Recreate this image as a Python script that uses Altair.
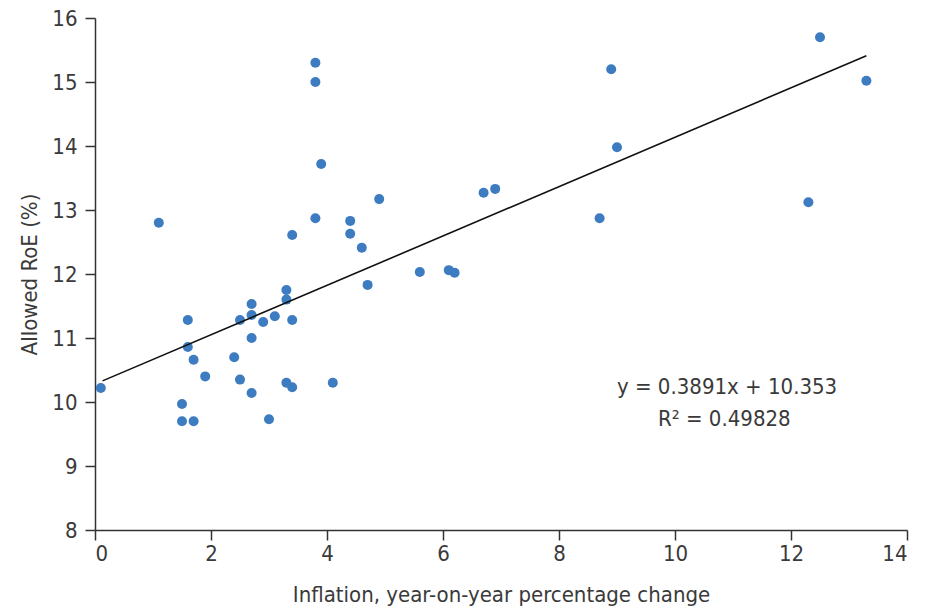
import altair as alt
import pandas as pd

inflation = [0.1, 1.1, 1.5, 1.5, 1.7, 1.6, 1.6, 1.7, 1.9, 2.4, 2.5, 2.5, 2.7, 2.7, 2.7, 2.7,
             2.9, 3.1, 3.0, 3.3, 3.3, 3.4, 3.3, 3.4, 3.8, 3.8, 3.9, 3.8, 3.4, 4.9, 4.4, 4.4,
             4.6, 6.7, 6.9, 5.6, 6.1, 6.2, 4.7, 4.1, 8.9, 12.5, 13.3, 9.0, 8.7, 12.3]
roe = [10.22, 12.8, 9.97, 9.7, 9.7, 11.28, 10.86, 10.66, 10.4, 10.7, 11.28, 10.35, 11.53, 11.36,
       11.0, 10.14, 11.25, 11.34, 9.73, 11.75, 11.6, 11.28, 10.3, 10.23, 15.3, 15.0, 13.72, 12.87,
       12.61, 13.17, 12.83, 12.63, 12.41, 13.27, 13.33, 12.03, 12.06, 12.02, 11.83, 10.3, 15.2,
       15.7, 15.02, 13.98, 12.87, 13.12]

trend_x = [0.13, 13.3]
trend_y = [10.33, 15.41]

eq_lines = ["y   = 0.3891x + 10.353", "R² = 0.49828"]

FONT = "DejaVu Sans Condensed"
TXT = "#3a3a3a"

pts = pd.DataFrame({"x": inflation, "y": roe})
trend = pd.DataFrame({"x": trend_x, "y": trend_y})

xs = alt.Scale(domain=[0, 14], nice=False)
ys = alt.Scale(domain=[8, 16], nice=False)

xaxis = alt.Axis(values=list(range(0, 15, 2)), format="d", grid=False, tickSize=10, labelPadding=3,
                 title="Inflation, year-on-year percentage change", titlePadding=20)
yaxis = alt.Axis(values=list(range(8, 17)), format="d", grid=False, tickSize=10, labelPadding=8,
                 title="Allowed RoE (%)", titlePadding=10)

points = alt.Chart(pts).mark_circle(size=100, opacity=1, color="#3d7cc0").encode(
    x=alt.X("x:Q", scale=xs, axis=xaxis),
    y=alt.Y("y:Q", scale=ys, axis=yaxis),
)

line = alt.Chart(trend).mark_line(color="#111111", strokeWidth=1.6).encode(
    x=alt.X("x:Q", scale=xs),
    y=alt.Y("y:Q", scale=ys),
)

eq1 = alt.Chart(pd.DataFrame({"t": [eq_lines[0]]})).mark_text(
    align="left", baseline="middle", fontSize=22, font=FONT, color=TXT
).encode(text="t:N", x=alt.value(522), y=alt.value(369))
eq2 = alt.Chart(pd.DataFrame({"t": [eq_lines[1]]})).mark_text(
    align="left", baseline="middle", fontSize=22, font=FONT, color=TXT
).encode(text="t:N", x=alt.value(563), y=alt.value(401))

chart = alt.layer(points, line, eq1, eq2).properties(
    width=812, height=512,
    autosize=alt.AutoSizeParams(type="none"),
    padding={"left": 95, "top": 18, "right": 27, "bottom": 80},
).configure_view(stroke=None).configure_axis(
    domainColor="#333333", domainWidth=1.5, tickColor="#333333", tickWidth=1.5,
    labelFont=FONT, labelFontSize=22, labelColor=TXT,
    titleFont=FONT, titleFontSize=22, titleColor=TXT, titleFontWeight="normal",
)

chart.save("out.html", embed_options={"renderer": "svg", "actions": False})
